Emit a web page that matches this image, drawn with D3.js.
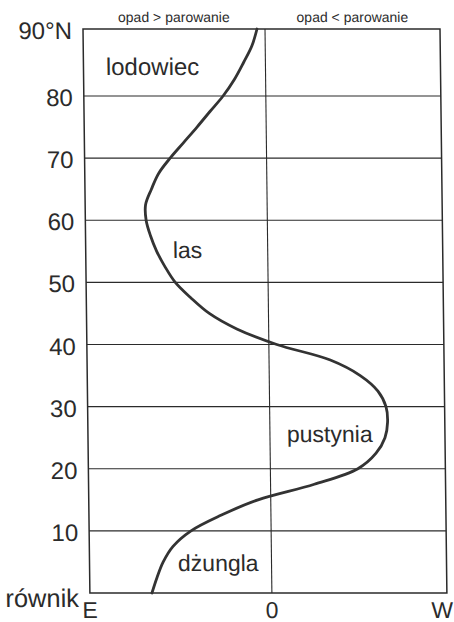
<!DOCTYPE html>
<html><head><meta charset="utf-8">
<script src="https://cdn.jsdelivr.net/npm/d3@7"></script>
<style>html,body{margin:0;padding:0;background:#fff;overflow:hidden}text{font-family:"Liberation Sans",Arial,sans-serif;fill:#2b2b2b}</style>
</head><body><svg id="c" width="454" height="622"></svg>
<script>
// ---- data ----
const latTicks = [0, 10, 20, 30, 40, 50, 60, 70, 80, 90];
const latLabels = ["równik", "10", "20", "30", "40", "50", "60", "70", "80", "90°N"];
const latitudes = [90, 87.5, 85, 82.5, 80, 77.5, 75, 72.5, 70, 67.5, 65, 62.5, 60, 57.5, 55, 52.5, 50, 47.5, 45, 42.5, 40, 37.5, 35, 32.5, 30, 27.5, 25, 22.5, 20, 17.5, 15, 12.5, 10, 7.5, 5, 2.5, 0];
const balance = [-0.44, -0.73, -1.2, -1.71, -2.35, -3.08, -3.8, -4.55, -5.3, -5.95, -6.35, -6.68, -6.66, -6.43, -6.1, -5.65, -5.1, -4.25, -3.25, -1.75, 0.45, 3.5, 5.2, 6.2, 6.65, 6.73, 6.57, 6.05, 5.0, 2.5, -0.7, -2.75, -4.4, -5.4, -5.95, -6.3, -6.59];
const xTickValues = [-10, 0, 10];
const xTickLabels = ["E", "0", "W"];
const topLabelX = [-5, 5];
const topLabels = ["opad > parowanie", "opad < parowanie"];
const zoneNames = ["lodowiec", "las", "pustynia", "dżungla"];
const zoneLat = [83.1, 53.9, 24.35, 3.6];
const zoneX = [-8.77, -5.21, 0.97, -5.14];

// ---- chart ----
const svg = d3.select("#c");
const x = d3.scaleLinear().domain([-10, 0, 10]).range([83, 265, 440]);
const y = d3.scaleLinear().domain([0, 80, 90]).range([593, 96, 29]);
const ink = "#2b2b2b";

const g = svg.append("g").attr("transform", "translate(0,29) skewX(0.7) translate(0,-29)");

// horizontal grid lines
g.selectAll("line.h").data(latTicks.filter(d => d > 0 && d < 90)).join("line")
  .attr("class", "h")
  .attr("x1", x(-10)).attr("x2", x(10))
  .attr("y1", d => y(d)).attr("y2", d => y(d))
  .attr("stroke", ink).attr("stroke-width", 1.1);

// zero line
g.append("line")
  .attr("x1", x(0)).attr("x2", x(0))
  .attr("y1", y(90)).attr("y2", y(0))
  .attr("stroke", ink).attr("stroke-width", 1.1);

// frame
g.append("rect")
  .attr("x", x(-10)).attr("y", y(90))
  .attr("width", x(10) - x(-10)).attr("height", y(0) - y(90))
  .attr("fill", "none").attr("stroke", ink).attr("stroke-width", 1.5);

// curve
const pts = latitudes.map((lat, i) => ({lat, v: balance[i]}));
g.append("path").datum(pts)
  .attr("d", d3.line().x(d => x(d.v)).y(d => y(d.lat)).curve(d3.curveCatmullRom.alpha(0.5)))
  .attr("fill", "none").attr("stroke", "#333").attr("stroke-width", 2.8)
  .attr("stroke-linecap", "round").attr("stroke-linejoin", "round");

// latitude labels
g.selectAll("text.lat").data(latTicks).join("text")
  .attr("class", "lat")
  .attr("x", 72)
  .attr("y", d => d === 0 ? y(0) + 14 : y(d))
  .attr("dy", d => d === 0 ? 0 : "0.42em")
  .attr("text-anchor", "end")
  .attr("font-size", d => d === 0 ? 25.5 : 24)
  .text((d, i) => latLabels[i]);

// bottom labels
g.selectAll("text.xl").data(xTickValues).join("text")
  .attr("class", "xl")
  .attr("x", d => d === 10 ? x(d) + 6 : x(d)).attr("y", 618)
  .attr("text-anchor", d => d === 10 ? "end" : "middle").attr("font-size", 23)
  .text((d, i) => xTickLabels[i]);

// top labels
g.selectAll("text.top").data(topLabelX).join("text")
  .attr("class", "top")
  .attr("x", d => x(d)).attr("y", 22)
  .attr("text-anchor", "middle").attr("font-size", 14)
  .text((d, i) => topLabels[i]);

// zone labels
g.selectAll("text.zone").data(zoneNames).join("text")
  .attr("class", "zone")
  .attr("x", (d, i) => x(zoneX[i])).attr("y", (d, i) => y(zoneLat[i]))
  .attr("font-size", (d, i) => i === 0 ? 24 : 23)
  .text(d => d);
</script></body></html>
